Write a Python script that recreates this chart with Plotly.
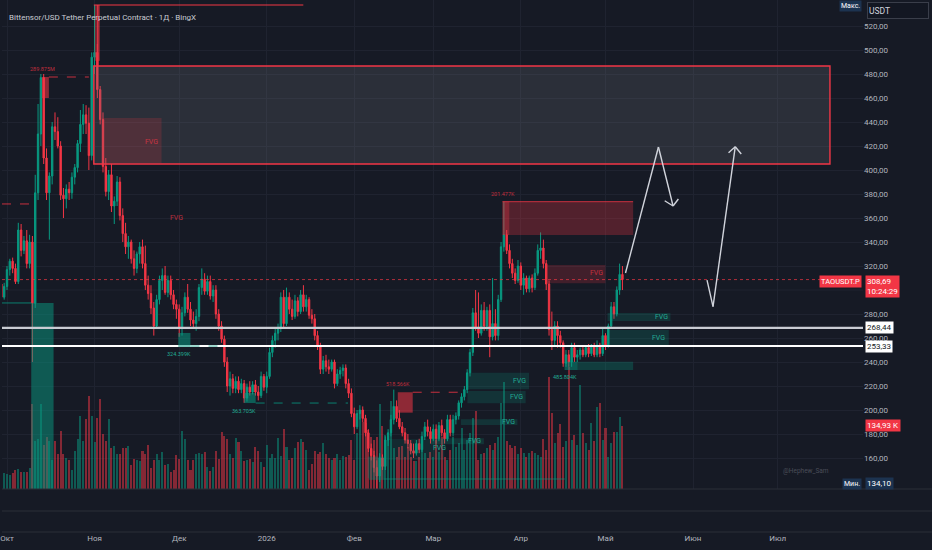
import pandas as pd
import plotly.graph_objects as go

# TAOUSDT.P daily candles, 29 Sep 2025 .. 7 May 2026
dates = pd.date_range("2025-09-29", periods=221, freq="D")

opens = [305, 294, 303, 317, 324, 318, 307, 350, 333, 341,
         322, 340, 289, 381, 430, 477, 410, 381, 395, 436,
         432, 420, 379, 376, 384, 381, 394, 402, 422, 438,
         446, 439, 412, 494, 498, 467, 442, 403, 382, 396,
         370, 374, 390, 362, 347, 336, 340, 326, 318, 330,
         336, 322, 304, 297, 285, 270, 292, 308, 312, 298,
         308, 296, 288, 284, 268, 281, 294, 284, 275, 272,
         278, 302, 309, 299, 307, 295, 300, 280, 270, 259,
         240, 220, 226, 218, 224, 217, 222, 210, 219, 215,
         221, 215, 212, 228, 219, 228, 248, 258, 264, 268,
         294, 272, 294, 284, 278, 291, 282, 296, 286, 292,
         279, 276, 262, 253, 234, 241, 236, 234, 240, 222,
         230, 233, 235, 222, 214, 197, 186, 197, 200, 193,
         181, 168, 162, 152, 145, 160, 153, 175, 181, 192,
         203, 193, 186, 181, 175, 172, 166, 164, 172, 167,
         178, 186, 182, 176, 184, 176, 187, 181, 176, 192,
         181, 192, 195, 206, 211, 217, 231, 248, 281, 269,
         264, 283, 270, 283, 261, 272, 262, 292, 336, 346,
         333, 322, 314, 308, 320, 304, 310, 301, 310, 302,
         314, 333, 335, 322, 305, 267, 258, 270, 262, 256,
         239, 246, 240, 252, 244, 246, 250, 246, 252, 247,
         253, 246, 254, 247, 262, 254, 270, 286, 280, 300,
         313]
highs = [312, 306, 320, 326, 327, 322, 356, 355, 345, 350,
         346, 345, 396, 455, 480, 480, 418, 398, 440, 448,
         444, 424, 385, 388, 390, 398, 405, 425, 450, 455,
         454, 452, 498, 537.5, 505, 470, 448, 410, 400, 405,
         378, 395, 394, 368, 356, 345, 342, 333, 332, 340,
         342, 337, 312, 304, 290, 296, 312, 318, 320, 312,
         312, 300, 292, 288, 286, 298, 305, 290, 282, 284,
         305, 318, 314, 312, 312, 304, 304, 284, 274, 262,
         244, 232, 230, 228, 228, 226, 225, 222, 224, 224,
         225, 220, 232, 230, 232, 252, 262, 268, 272, 298,
         300, 302, 298, 292, 296, 294, 300, 304, 296, 294,
         284, 280, 266, 256, 245, 246, 242, 242, 242, 234,
         236, 238, 238, 226, 218, 202, 200, 204, 203, 196,
         184, 172, 166, 158, 164, 163, 178, 184, 196, 217,
         208, 200, 190, 185, 180, 175, 172, 175, 176, 182,
         190, 192, 186, 188, 188, 190, 192, 184, 196, 196,
         196, 198, 208, 214, 220, 234, 251, 285, 300, 298,
         288, 290, 286, 288, 310, 284, 296, 340, 373.6, 350,
         338, 326, 318, 325, 323, 314, 312, 312, 313, 318,
         338, 348, 342, 325, 308, 282, 274, 274, 266, 258,
         250, 250, 256, 256, 250, 252, 254, 254, 255, 255,
         256, 258, 256, 268, 264, 272, 290, 290, 303, 322,
         320]
lows = [290, 292, 300, 312, 314, 305, 305, 328, 330, 318,
        318, 240, 285, 375, 420, 405, 375, 342, 388, 425,
        418, 375, 360, 368, 375, 376, 388, 398, 415, 430,
        430, 400, 408, 480, 460, 438, 398, 378, 375, 365,
        355, 370, 358, 340, 330, 326, 322, 312, 314, 322,
        318, 300, 292, 280, 262, 268, 288, 300, 296, 294,
        292, 284, 276, 261, 262, 278, 281, 270, 268, 266,
        274, 296, 296, 296, 292, 290, 276, 266, 256, 236,
        215, 212, 214, 214, 214, 214, 206, 207, 212, 213,
        212, 208, 210, 216, 214, 226, 244, 252, 258, 265,
        268, 270, 280, 275, 276, 278, 280, 282, 282, 276,
        272, 258, 250, 230, 230, 232, 230, 232, 218, 220,
        226, 228, 218, 210, 194, 180, 184, 192, 190, 178,
        165, 158, 148, 134.1, 140, 150, 150, 170, 178, 188,
        190, 184, 178, 172, 168, 163, 160, 162, 164, 165,
        175, 178, 172, 174, 172, 174, 178, 172, 174, 178,
        178, 188, 192, 202, 208, 214, 228, 245, 266, 260,
        262, 266, 266, 244, 258, 258, 258, 290, 332, 330,
        318, 310, 305, 306, 300, 296, 298, 298, 298, 300,
        312, 326, 318, 300, 262, 250, 254, 252, 252, 236,
        236, 236, 236, 240, 240, 242, 244, 244, 244, 245,
        244, 244, 244, 245, 250, 252, 268, 276, 278, 296,
        300]
closes = [294, 303, 317, 324, 318, 307, 350, 333, 341, 322,
          340, 289, 381, 430, 477, 410, 381, 395, 436, 432,
          420, 379, 376, 384, 381, 394, 402, 422, 438, 446,
          439, 412, 494, 498, 467, 442, 403, 382, 396, 370,
          374, 390, 362, 347, 336, 340, 326, 318, 330, 336,
          322, 304, 297, 285, 270, 292, 308, 312, 298, 308,
          296, 288, 284, 268, 281, 294, 284, 275, 272, 278,
          302, 309, 299, 307, 295, 300, 280, 270, 259, 240,
          220, 226, 218, 224, 217, 222, 210, 219, 215, 221,
          215, 212, 228, 219, 228, 248, 258, 264, 268, 294,
          272, 294, 284, 278, 291, 282, 296, 286, 292, 279,
          276, 262, 253, 234, 241, 236, 234, 240, 222, 230,
          233, 235, 222, 214, 197, 186, 197, 200, 193, 181,
          168, 162, 152, 145, 160, 153, 175, 181, 192, 203,
          193, 186, 181, 175, 172, 166, 164, 172, 167, 178,
          186, 182, 176, 184, 176, 187, 181, 176, 192, 181,
          192, 195, 206, 211, 217, 231, 248, 281, 269, 264,
          283, 270, 283, 261, 272, 262, 292, 336, 346, 333,
          322, 314, 308, 320, 304, 310, 301, 310, 302, 314,
          333, 335, 322, 305, 267, 258, 270, 262, 256, 239,
          246, 240, 252, 244, 246, 250, 246, 252, 247, 253,
          246, 254, 247, 262, 254, 270, 286, 280, 300, 313,
          308.69]
# volume, thousands
volume_k = [34, 34, 32, 30, 34, 40, 42, 37, 37, 37,
            45, 183, 102, 106, 183, 95, 112, 102, 63, 102,
            76, 124, 74, 66, 63, 40, 81, 106, 156, 102,
            149, 199, 157, 100, 152, 193, 117, 102, 149, 88,
            92, 74, 74, 87, 88, 93, 52, 65, 63, 61,
            82, 74, 94, 45, 63, 76, 63, 79, 51, 54,
            37, 41, 72, 65, 125, 106, 63, 41, 63, 74,
            77, 75, 79, 47, 38, 47, 82, 65, 122, 114,
            106, 76, 66, 109, 100, 82, 61, 63, 64, 57,
            89, 82, 57, 47, 95, 67, 74, 67, 109, 70,
            129, 89, 63, 66, 88, 100, 107, 100, 83, 40,
            54, 82, 76, 80, 99, 74, 66, 62, 67, 74,
            62, 71, 69, 73, 104, 62, 119, 162, 144, 141,
            127, 112, 105, 112, 182, 134, 116, 114, 189, 87,
            69, 89, 93, 69, 91, 69, 59, 59, 69, 112,
            77, 66, 80, 69, 105, 80, 112, 69, 62, 84,
            112, 91, 99, 130, 84, 105, 119, 152, 166, 62,
            75, 77, 87, 94, 84, 99, 111, 185, 229, 102,
            94, 87, 93, 74, 87, 77, 69, 78, 82, 77,
            73, 69, 107, 84, 240, 162, 98, 119, 139, 89,
            103, 262, 105, 116, 94, 223, 119, 98, 84, 141,
            102, 175, 184, 105, 130, 69, 98, 121, 123, 155,
            134.93]

month_ticks = ["2025-10-01", "2025-11-01", "2025-12-01", "2026-01-01", "2026-02-01",
               "2026-03-01", "2026-04-01", "2026-05-01", "2026-06-01", "2026-07-01"]
month_text = ["Окт", "Ноя", "Дек", "2026", "Фев", "Мар", "Апр", "Май", "Июн", "Июл"]
# 300 sits under the last-price tag, so it only gets a grid line
price_ticks = [160, 180, 200, 220, 240, 260, 280, 320, 340, 360, 380, 400, 420, 440, 460, 480, 500, 520]
hidden_grid = [300]

levels = [268.44, 253.33]
last_price = 308.69
last_volume = 134.93
min_price = 134.10

BG = "#161a25"
GRID = "#1f2330"
UP = "#089981"
DOWN = "#F23645"
RED_T = "rgba(242,54,69,0.75)"
TEAL_T = "#22ab94"
X0 = "2025-09-29 05:30"
X1 = "2026-07-31 05:00"

vol_colors = ["rgba(8,153,129,0.5)" if c >= o else "rgba(242,54,69,0.5)"
              for o, c in zip(opens, closes)]

fig = go.Figure()
fig.add_trace(go.Bar(x=dates, y=volume_k, marker_color=vol_colors, marker_line_width=0,
                     width=0.72 * 86400000, yaxis="y", hoverinfo="skip"))
fig.add_trace(go.Candlestick(
    x=dates, open=opens, high=highs, low=lows, close=closes, yaxis="y2",
    increasing=dict(line=dict(color=UP, width=1), fillcolor=UP),
    decreasing=dict(line=dict(color=DOWN, width=1), fillcolor=DOWN),
    whiskerwidth=0))


def box(x0, x1, y0, y1, fill, line_color="rgba(0,0,0,0)", width=0):
    return dict(type="rect", xref="x", yref="y2", x0=x0, x1=x1, y0=y0, y1=y1,
                fillcolor=fill, line=dict(color=line_color, width=width), layer="above")


def seg(x0, y0, x1, y1, color, width=1, dash="solid", xref="x", layer="above"):
    return dict(type="line", xref=xref, yref="y2", x0=x0, x1=x1, y0=y0, y1=y1,
                line=dict(color=color, width=width, dash=dash), layer=layer)


teal_fvg = "rgba(8,153,129,0.2)"
shapes = [seg(0, g, 1, g, GRID, 1, xref="paper", layer="below") for g in hidden_grid]
shapes += [
    # premium zone
    box("2025-10-31 18:00", "2026-07-19 12:00", 405.0, 486.7, "rgba(120,123,134,0.22)", DOWN, 1.4),
    seg("2025-10-31 18:00", 537.5, "2026-01-13 23:00", 537.5, DOWN, 1.2),
    seg("2025-11-02 04:00", 537.5, "2025-11-02 04:00", 487.5, DOWN, 1.2),
    box("2025-11-01 02:00", "2025-11-02 22:00", 491, 537.5, "rgba(242,54,69,0.45)"),
    box("2025-11-03 14:00", "2025-11-24 18:00", 405.8, 443.3, "rgba(242,54,69,0.18)"),
    box("2025-10-13 09:00", "2025-10-15 20:00", 460, 477.5, "rgba(242,54,69,0.55)"),
    seg("2025-10-15 20:00", 477.5, "2025-10-30 00:00", 477.5, "rgba(242,54,69,0.8)", 1, "dash"),
    seg(X0, 371.7, "2025-10-10 21:00", 371.7, "rgba(242,54,69,0.8)", 1, "dash"),
    seg(X0, last_price, "2026-07-16 17:00", last_price, "rgba(242,54,69,0.7)", 1, "dot"),
    box("2025-10-09 14:00", "2025-10-17 12:00", 134.2, 289.2, "rgba(8,153,129,0.5)"),
    seg(X0, 289.2, "2025-10-09 14:00", 289.2, "rgba(8,153,129,0.8)", 1),
    # horizontal levels
    seg(0, levels[0], 1, levels[0], "#c9ccd3", 2.2, xref="paper"),
    seg(0, levels[1], 1, levels[1], "#ffffff", 2, xref="paper"),
    # order blocks
    box("2025-11-30 16:00", "2025-12-04 23:30", 252.5, 264.2, "rgba(8,153,129,0.55)"),
    seg("2025-12-05 00:00", 253.3, "2025-12-15 07:00", 253.3, "rgba(8,153,129,0.8)", 1, "dash"),
    box("2025-12-24 00:00", "2025-12-28 02:00", 205.8, 214.2, "rgba(8,153,129,0.55)"),
    seg("2025-12-28 02:00", 205.8, "2026-01-29 19:00", 205.8, "rgba(8,153,129,0.8)", 1, "dash"),
    box("2026-02-16 10:00", "2026-02-21 17:00", 197.8, 214.8, "rgba(242,54,69,0.55)"),
    seg("2026-02-21 17:00", 214.8, "2026-03-12 12:00", 214.8, "rgba(242,54,69,0.8)", 1, "dash"),
    box("2026-02-05 19:00", "2026-02-11 17:00", 143.1, 161.1, "rgba(8,153,129,0.3)"),
    seg("2026-02-06 07:00", 142.5, "2026-04-16 14:00", 142.5, "rgba(8,153,129,0.6)", 1),
    # FVGs
    box("2026-03-13 17:00", "2026-04-03 22:00", 217.3, 231.1, teal_fvg),
    box("2026-03-13 02:00", "2026-04-02 17:00", 205.6, 215.8, teal_fvg),
    box("2026-03-10 19:00", "2026-03-30 19:00", 187.5, 192.2, teal_fvg),
    box("2026-02-28 05:00", "2026-03-18 22:00", 171.4, 176.4, teal_fvg),
    box("2026-02-12 22:00", "2026-03-04 22:00", 158.3, 175.8, "rgba(8,153,129,0.12)"),
    box("2026-05-01 17:00", "2026-05-24 00:00", 274.2, 280.8, teal_fvg),
    box("2026-05-01 14:00", "2026-05-23 10:00", 254.2, 266.7, teal_fvg),
    box("2026-04-16 12:00", "2026-05-10 19:00", 233.3, 240.3, "rgba(8,153,129,0.28)"),
    box("2026-04-16 12:00", "2026-04-21 02:00", 233.3, 240.3, "rgba(8,153,129,0.3)"),
    box("2026-03-25 12:00", "2026-05-10 19:00", 345.8, 373.6, "rgba(242,54,69,0.28)"),
    box("2026-03-25 12:00", "2026-03-27 22:00", 345.8, 373.6, "rgba(242,54,69,0.3)"),
    seg("2026-03-25 12:00", 373.6, "2026-05-10 19:00", 373.6, "rgba(242,54,69,0.8)", 1),
    box("2026-04-09 19:00", "2026-05-01 00:00", 305.6, 320.8, "rgba(242,54,69,0.2)"),
    # projected path
    seg("2026-05-08 02:00", 314.2, "2026-05-19 18:00", 419.2, "#d1d4dc", 1.4),
    seg("2026-05-19 18:00", 419.2, "2026-05-24 22:30", 370.0, "#d1d4dc", 1.4),
    seg("2026-05-24 22:30", 370.0, "2026-05-21 23:00", 374.4, "#d1d4dc", 1.4),
    seg("2026-05-24 22:30", 370.0, "2026-05-26 19:30", 375.8, "#d1d4dc", 1.4),
    seg("2026-06-05 23:00", 308.3, "2026-06-08 02:00", 286.1, "#d1d4dc", 1.4),
    seg("2026-06-08 02:00", 286.1, "2026-06-15 23:00", 419.4, "#d1d4dc", 1.4),
    seg("2026-06-15 23:00", 419.4, "2026-06-13 14:00", 414.4, "#d1d4dc", 1.4),
    seg("2026-06-15 23:00", 419.4, "2026-06-18 02:00", 413.3, "#d1d4dc", 1.4),
]
# pane separators
for yp in [1 - 489 / 532, 1 - 511 / 532, 0]:
    shapes.append(dict(type="line", xref="paper", yref="paper", x0=0, x1=932 / 863, y0=yp, y1=yp,
                       line=dict(color="#2a2e39", width=1)))

annotations = []


def note(x, y, text, color, size=7):
    annotations.append(dict(x=x, y=y, xref="x", yref="y2", text=text, showarrow=False,
                            font=dict(size=size, color=color)))


for x, y in [("2025-11-21 05:00", 423.3), ("2025-11-30 02:00", 360), ("2026-04-27 19:00", 313.9)]:
    note(x, y, "FVG", RED_T)
for x, y in [("2026-03-31 15:00", 224.4), ("2026-03-30 14:00", 210.6), ("2026-03-27 12:00", 190),
             ("2026-03-15 12:00", 173.9), ("2026-03-03 02:00", 168), ("2026-05-20 19:00", 277.2),
             ("2026-05-19 22:00", 260.3)]:
    note(x, y, "FVG", TEAL_T)
note("2025-10-13 13:00", 484.2, "289.875M", RED_T, 5.5)
note("2025-11-30 19:00", 246.7, "324.399K", TEAL_T, 5.5)
note("2025-12-24 02:00", 199.2, "363.705K", TEAL_T, 5.5)
note("2026-02-16 12:00", 221.7, "518.566K", RED_T, 5.5)
note("2026-03-25 14:00", 379.7, "201.477K", RED_T, 5.5)
note("2026-04-16 12:00", 227.2, "485.804K", TEAL_T, 5.5)


def tag(text, y, bg, fg="#ffffff", x=865 / 863, anchor="left", yref="y2", yanchor="middle", size=8,
        width=None, height=None, border=None):
    a = dict(x=x, y=y, xref="paper", yref=yref, text=text, showarrow=False, xanchor=anchor,
             yanchor=yanchor, bgcolor=bg, font=dict(size=size, color=fg), borderpad=1, align="left")
    if width:
        a["width"] = width
    if height:
        a["height"] = height
    if border:
        a["bordercolor"] = border
        a["borderwidth"] = 1
    annotations.append(a)


tag("TAOUSDT.P", last_price - 1.2, DOWN, x=862 / 863, anchor="right", size=7.5)
tag("308,69<br>10:24:29", 312.5, DOWN, yanchor="top")
tag(f"{levels[0]:.2f}".replace(".", ","), levels[0], "#ffffff", fg="#131722")
tag(f"{levels[1]:.2f}".replace(".", ","), levels[1] - 0.8, "#ffffff", fg="#131722")
tag(f"{last_volume:.2f} K".replace(".", ","), 186.7, DOWN)
tag("Мин.", 1 - 483.5 / 532, "#1c3350", x=862 / 863, anchor="right", yref="paper", size=7)
tag(f"{min_price:.2f}".replace(".", ","), 1 - 483.5 / 532, "#1c3350", yref="paper")
tag("Макс.", 1 - 6.5 / 532, "#1c3350", x=862 / 863, anchor="right", yref="paper", size=7)
tag("USDT", 1 - 11 / 532, "#131722", fg="#d1d4dc", x=867 / 863, yref="paper", size=8.5,
    width=58, height=13, border="#3a3e4a")
annotations.append(dict(x=831 / 863, y=1 - 477 / 532, xref="paper", yref="paper", text="@Hephew_Sam",
                        showarrow=False, font=dict(size=6.5, color="#4a4d58")))
annotations.append(dict(x=5 / 863, y=1 - 10.7 / 532, xref="paper", yref="paper", xanchor="left",
                        text="Bittensor/USD Tether Perpetual Contract · 1Д · BingX", showarrow=False,
                        font=dict(size=8, color="#c8cbd2")))

fig.update_layout(
    width=932, height=550,
    margin=dict(l=0, r=69, t=0, b=18),
    paper_bgcolor=BG, plot_bgcolor=BG,
    separators=", ",
    showlegend=False,
    bargap=0,
    font=dict(family="Roboto", size=8, color="#b2b5be"),
    xaxis=dict(type="date", range=[X0, X1], rangeslider=dict(visible=False),
               tickvals=month_ticks, ticktext=month_text, showgrid=True, gridcolor=GRID,
               zeroline=False, anchor="free", position=0, ticks="", tickfont=dict(size=8),
               ticklabeloverflow="allow"),
    yaxis=dict(domain=[1 - 489 / 532, 1], range=[0, 1047], visible=False, showgrid=False),
    yaxis2=dict(overlaying="y", side="right", range=[134.17, 541.67], tickvals=price_ticks,
                tickformat=".2f", showgrid=True, gridcolor=GRID, zeroline=False, ticks="",
                tickfont=dict(size=8)),
    shapes=shapes,
    annotations=annotations,
)

# the page's default 8px body margin would shift the chart off the window edge
fig.write_html("out.html", config={"displayModeBar": False},
               post_script="document.body.style.margin='0';document.body.style.background='#161a25';")
